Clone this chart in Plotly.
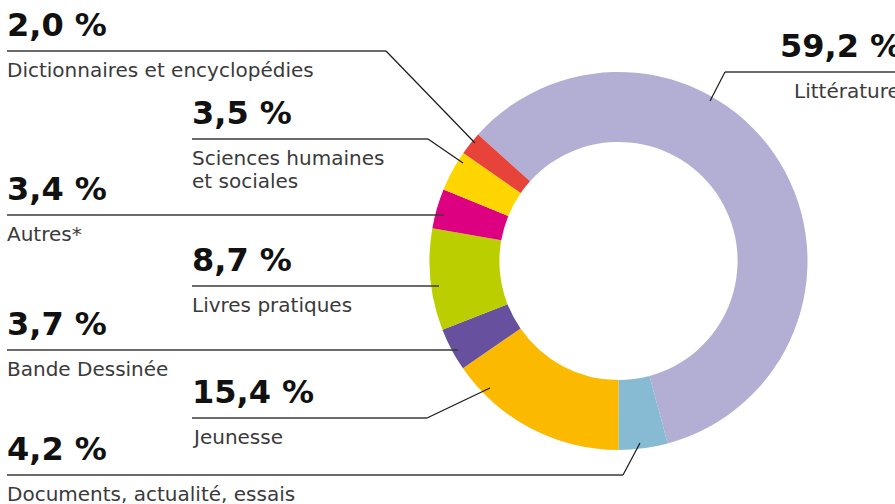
import plotly.graph_objects as go

# ---- data ----
categories = ["Littérature", "Documents, actualité, essais", "Jeunesse", "Bande Dessinée",
              "Livres pratiques", "Autres*", "Sciences humaines<br>et sociales",
              "Dictionnaires et encyclopédies"]
values = [59.2, 4.2, 15.4, 3.7, 8.7, 3.4, 3.5, 2.0]
colors = ["#B3AED4", "#86BBD3", "#FBBA00", "#67519E", "#BBCF00", "#DD0080", "#FFD500", "#E8433A"]

W, H = 895, 504

# ---- layout (pixel positions of callouts, in page pixels) ----
callouts = {
    "Littérature": dict(tx=778, ltx=792, ly=72, x0=725, x1=905, leader=(710, 101), leader_from=(725, 72)),
    "Documents, actualité, essais": dict(tx=5, ly=475, x0=7, x1=623, leader=(640, 443)),
    "Jeunesse": dict(tx=190, ly=418, x0=192, x1=427, leader=(490, 388)),
    "Bande Dessinée": dict(tx=5, ly=350, x0=7, x1=458, leader=None),
    "Livres pratiques": dict(tx=190, ly=286, x0=192, x1=439, leader=None),
    "Autres*": dict(tx=5, ly=215, x0=7, x1=444, leader=None),
    "Sciences humaines<br>et sociales": dict(tx=190, ly=139, x0=192, x1=428, leader=(463, 163)),
    "Dictionnaires et encyclopédies": dict(tx=5, ly=51, x0=7, x1=386, leader=(475, 143)),
}

def px(x):
    return x / W

def py(y):
    return 1 - y / H

cx, cy, r = 618.5, 261, 189

fig = go.Figure(go.Pie(
    labels=categories,
    values=values,
    marker=dict(colors=colors, line=dict(width=0)),
    hole=0.63,
    sort=False,
    direction="clockwise",
    rotation=-48,
    textinfo="none",
    hoverinfo="label+percent",
    showlegend=False,
    domain=dict(x=[px(cx - r), px(cx + r)], y=[py(cy + r), py(cy - r)]),
))

shapes = []
annotations = []
for cat, val in zip(categories, values):
    c = callouts[cat]
    ly = c["ly"]
    shapes.append(dict(type="line", xref="paper", yref="paper",
                       x0=px(c["x0"]), x1=px(c["x1"]), y0=py(ly), y1=py(ly),
                       line=dict(color="#3a3a3a", width=1.6)))
    if c["leader"] is not None:
        if "leader_from" in c:
            sx, sy = c["leader_from"]
        else:
            sx, sy = c["x1"], ly
        ex, ey = c["leader"]
        shapes.append(dict(type="line", xref="paper", yref="paper",
                           x0=px(sx), x1=px(ex), y0=py(sy), y1=py(ey),
                           line=dict(color="#1a1a1a", width=1.2)))
    pct = f"{val:.1f}".replace(".", ",") + " %"
    annotations.append(dict(text=pct, xref="paper", yref="paper",
                            x=px(c["tx"]), y=py(ly - 26), xanchor="left", yanchor="middle",
                            showarrow=False,
                            font=dict(family="DejaVu Sans", size=32, color="#111111", weight="bold")))
    ltx = c.get("ltx", c["tx"])
    for i, line in enumerate(cat.split("<br>")):
        annotations.append(dict(text=line, xref="paper", yref="paper",
                                x=px(ltx), y=py(ly + 19 + 23 * i), xanchor="left", yanchor="middle",
                                showarrow=False, align="left",
                                font=dict(family="DejaVu Sans", size=20, color="#3a3a3a")))

fig.update_layout(
    width=W, height=H,
    margin=dict(l=0, r=0, t=0, b=0),
    paper_bgcolor="white", plot_bgcolor="white",
    shapes=shapes, annotations=annotations,
)

fig.write_html("out.html",
               config={"displayModeBar": False},
               post_script="document.body.style.margin='0';document.body.style.overflow='hidden';")
